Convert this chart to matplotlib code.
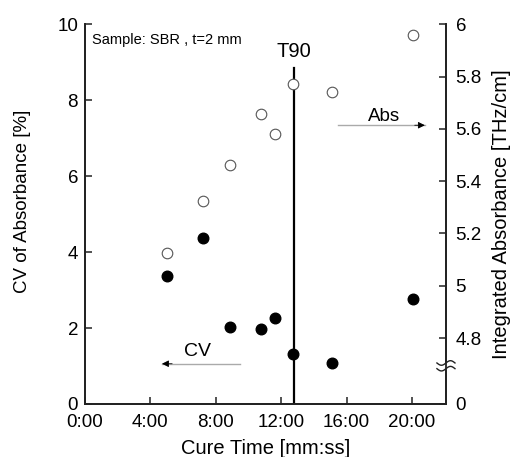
import numpy as np
import matplotlib
matplotlib.use("Agg")
import matplotlib.pyplot as plt

plt.rcParams['font.family'] = ['Liberation Sans', 'DejaVu Sans']

# Data
times = ["5:00", "7:12", "8:52", "10:46", "11:38", "12:44", "15:05", "20:05"]
cv_values = [3.37, 4.38, 2.03, 1.97, 2.27, 1.31, 1.09, 2.77]
abs_values = [5.126, 5.324, 5.461, 5.655, 5.581, 5.770, 5.739, 5.958]
x_ticks = ["0:00", "4:00", "8:00", "12:00", "16:00", "20:00"]
left_ticks = [0, 2, 4, 6, 8, 10]
right_ticks = [4.548, 4.8, 5.0, 5.2, 5.4, 5.6, 5.8, 6.0]
right_tick_labels = ["0", "4.8", "5", "5.2", "5.4", "5.6", "5.8", "6"]
t90 = "12:48"

def to_min(s):
    m, sec = s.split(":")
    return int(m) + int(sec) / 60.0

x = np.array([to_min(t) for t in times])
xt = [to_min(t) for t in x_ticks]

fig = plt.figure(figsize=(5.12, 4.57), dpi=100)
ax = fig.add_axes([0.166, 0.116, 0.705, 0.831])
ax2 = ax.twinx()

ax.set_xlim(0, 22.08)
ax.set_ylim(0, 10)
ax2.set_ylim(4.548, 6.0)

ax.scatter(x, cv_values, s=58, color='black', zorder=3)
ax2.scatter(x, abs_values, s=58, facecolor='white', edgecolor='#555555', linewidth=0.8, zorder=3)

for a in (ax, ax2):
    a.spines['top'].set_visible(False)
    for sp in a.spines.values():
        sp.set_linewidth(1.3)
        sp.set_color('#222222')

ax.set_xticks(xt)
ax.set_xticklabels(x_ticks)
ax.set_yticks(left_ticks)
ax2.set_yticks(right_ticks)
ax2.set_yticklabels(right_tick_labels)
ax.tick_params(direction='in', length=5, width=1.1, labelsize=13.5, pad=5, colors='#222222', labelcolor='black')
ax2.tick_params(direction='in', length=5, width=1.1, labelsize=13.5, pad=7, colors='#222222', labelcolor='black')
ax.tick_params(axis='x', pad=7)

ax.set_xlabel("Cure Time [mm:ss]", fontsize=14.5)
ax.set_ylabel("CV of Absorbance [%]", fontsize=13.5)
ax2.set_ylabel("Integrated Absorbance [THz/cm]", fontsize=14.5)
ax.xaxis.set_label_coords(0.5, (404 - 449) / 380.0)
ax.yaxis.set_label_coords((23 - 85) / 361.0, (404 - 201) / 380.0)
ax2.yaxis.set_label_coords((502 - 85) / 361.0, (404 - 214) / 380.0)
ax.xaxis.label.set_va('center')
ax.yaxis.label.set_va('center')
ax2.yaxis.label.set_va('center')

# T90 line
tx = to_min(t90)
ax.plot([tx, tx], [0, 8.85], color='black', lw=1.6, zorder=2)
ax.text(tx, 9.29, "T90", ha='center', va='center', fontsize=14.5)

# Sample text
ax.text(0.02, 0.958, "Sample: SBR , t=2 mm", transform=ax.transAxes, fontsize=10.5, va='center', ha='left')

# Arrows
ax.plot([15.45, 20.8], [7.34, 7.34], color='#aaaaaa', lw=1.0)
ax.annotate('', xy=(20.96, 7.34), xytext=(20.0, 7.34),
            arrowprops=dict(arrowstyle='-|>', color='black', lw=0.6, mutation_scale=10))
ax.text(18.3, 7.58, "Abs", ha='center', va='center', fontsize=13.5)

ax.plot([9.48, 4.7], [1.06, 1.06], color='#aaaaaa', lw=1.0)
ax.annotate('', xy=(4.54, 1.06), xytext=(5.5, 1.06),
            arrowprops=dict(arrowstyle='-|>', color='black', lw=0.6, mutation_scale=10))
ax.text(6.91, 1.37, "CV", ha='center', va='center', fontsize=14)

# Axis break mark on right spine
trans = ax.transAxes
ax.add_patch(plt.Rectangle((0.985, 0.093), 0.03, 0.015, transform=trans, color='white', zorder=5, clip_on=False))
xs = np.linspace(-0.025, 0.025, 40)
for yc in (0.108, 0.093):
    ax.plot(1 + xs, yc + 0.006 * np.sin(xs / 0.025 * np.pi), transform=trans, color='#222222', lw=1.0, clip_on=False, zorder=6)

fig.savefig("out.png", dpi=100)
